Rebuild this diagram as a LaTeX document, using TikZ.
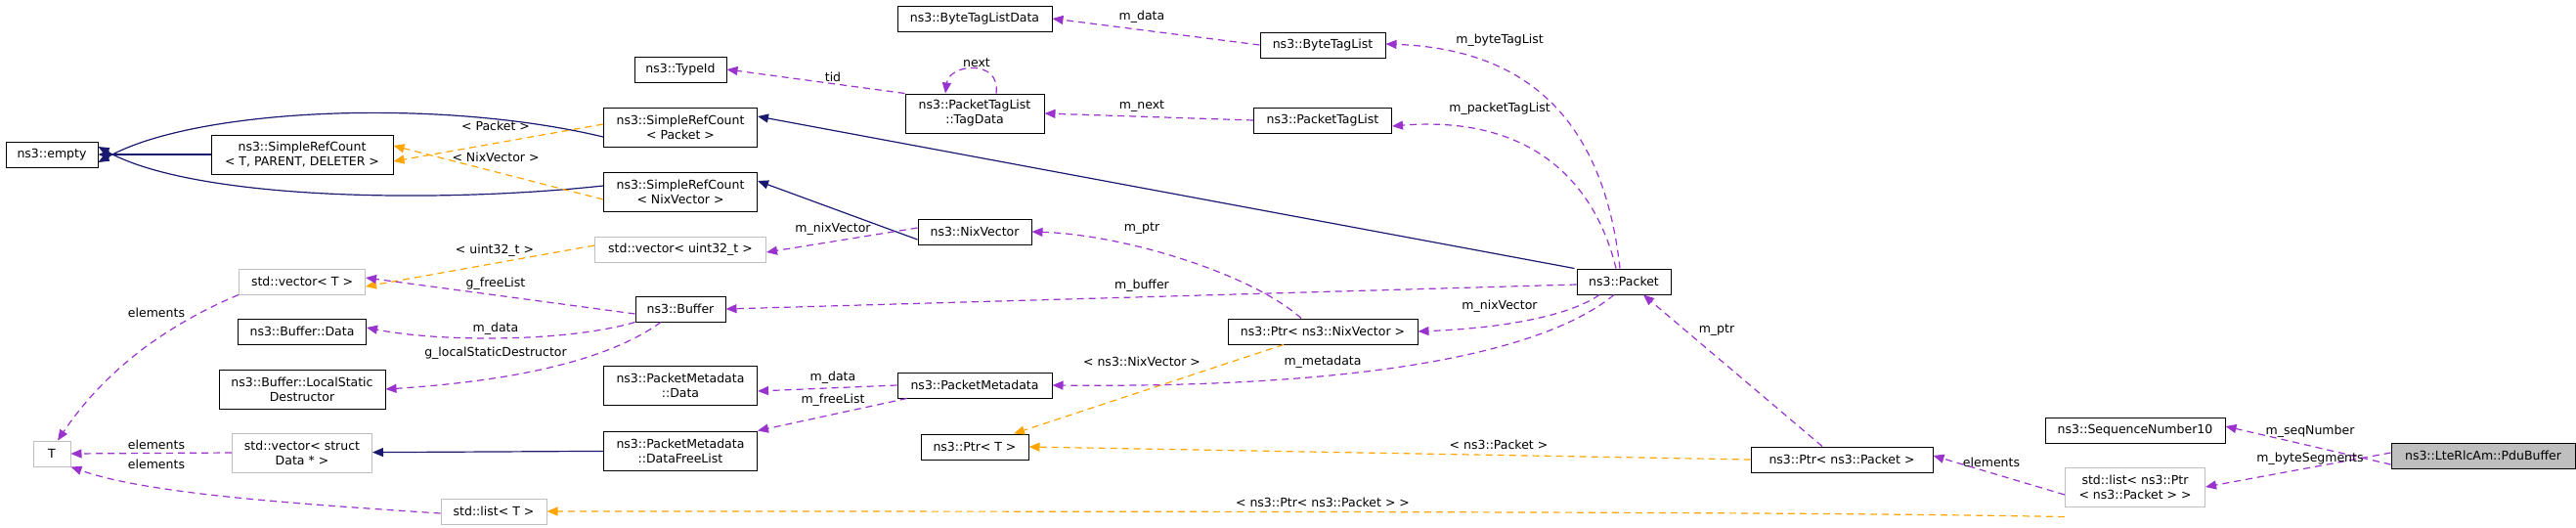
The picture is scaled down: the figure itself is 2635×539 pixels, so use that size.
\documentclass[tikz,border=0pt]{standalone}
\usepackage{fontspec}
\setmainfont{DejaVu Sans}
\usetikzlibrary{arrows.meta}
\definecolor{inhcol}{HTML}{191970}
\definecolor{usecol}{HTML}{9A32CD}
\definecolor{tplcol}{HTML}{FFA500}
\definecolor{extcol}{HTML}{BFBFBF}
\tikzset{
  cls/.style={draw=black,line width=1pt,inner sep=1pt,minimum height=26,font=\fontsize{12.5}{15}\selectfont,align=center},
  ext/.style={cls,draw=extcol},
  cur/.style={cls,fill=extcol},
  tip/.style={-{Triangle[length=11pt,width=9pt]}},
  inh/.style={tip,draw=inhcol,line width=1.2pt},
  use/.style={tip,draw=usecol,line width=1.2pt,dash pattern=on 7pt off 5pt},
  tpl/.style={tip,draw=tplcol,line width=1.2pt,dash pattern=on 7pt off 5pt},
  lbl/.style={font=\fontsize{12.5}{14}\selectfont,inner sep=1pt}
}
\begin{document}
\begin{tikzpicture}[x=1pt,y=-1pt]
\useasboundingbox (0,0) rectangle (2635,539);
% classes
\node[cls,minimum width=94] (empty) at (53,158) {ns3::empty};
\node[cls,minimum width=186,minimum height=40] (srcTPD) at (309,158) {ns3::SimpleRefCount\\< T, PARENT, DELETER >};
\node[cls,minimum width=157,minimum height=40] (srcP) at (696,130) {ns3::SimpleRefCount\\< Packet >};
\node[cls,minimum width=157,minimum height=40] (srcN) at (696,196) {ns3::SimpleRefCount\\< NixVector >};
\node[cls,minimum width=94] (typeid) at (696,71) {ns3::TypeId};
\node[ext,minimum width=175] (vecU) at (696,255) {std::vector< uint32\_t >};
\node[ext,minimum width=129] (vecT) at (309,288) {std::vector< T >};
\node[cls,minimum width=92] (buffer) at (696,316) {ns3::Buffer};
\node[cls,minimum width=131] (bufData) at (309,339) {ns3::Buffer::Data};
\node[cls,minimum width=170,minimum height=40] (bufLsd) at (309,398) {ns3::Buffer::LocalStatic\\Destructor};
\node[cls,minimum width=157,minimum height=40] (pmData) at (696,394) {ns3::PacketMetadata\\::Data};
\node[cls,minimum width=157,minimum height=40] (pmFree) at (696,461) {ns3::PacketMetadata\\::DataFreeList};
\node[ext,minimum width=143,minimum height=40] (vecD) at (309,463) {std::vector< struct\\Data * >};
\node[ext,minimum width=38] (tT) at (53,464) {T};
\node[ext,minimum width=108] (listT) at (505,523) {std::list< T >};
\node[cls,minimum width=158] (btlData) at (997,19) {ns3::ByteTagListData};
\node[cls,minimum width=128] (btl) at (1353,46) {ns3::ByteTagList};
\node[cls,minimum width=142,minimum height=40] (tagData) at (997,116) {ns3::PacketTagList\\::TagData};
\node[cls,minimum width=141] (ptl) at (1353,123) {ns3::PacketTagList};
\node[cls,minimum width=116] (nix) at (997,237) {ns3::NixVector};
\node[cls,minimum width=96] (packet) at (1661,288) {ns3::Packet};
\node[cls,minimum width=194] (ptrNix) at (1353,339) {ns3::Ptr< ns3::NixVector >};
\node[cls,minimum width=158] (pmeta) at (997,394) {ns3::PacketMetadata};
\node[cls,minimum width=110] (ptrT) at (997,457) {ns3::Ptr< T >};
\node[cls,minimum width=186] (ptrPkt) at (1884,470) {ns3::Ptr< ns3::Packet >};
\node[cls,minimum width=184] (seqNum) at (2184,440) {ns3::SequenceNumber10};
\node[ext,minimum width=143,minimum height=40] (listPtr) at (2184,498) {std::list< ns3::Ptr\\< ns3::Packet > >};
\node[cur,minimum width=188] (pdu) at (2540,466) {ns3::LteRlcAm::PduBuffer};
% inheritance
\draw[inh] ([yshift=-10]srcP.west) .. controls (450,100) and (200,110) .. ([yshift=-8]empty.east);
\draw[inh] (srcTPD) -- (empty);
\draw[inh] ([yshift=6]srcN.west) .. controls (450,208) and (200,205) .. ([yshift=8]empty.east);
\draw[inh] ([xshift=-2]packet.north west) -- ([yshift=11]srcP.east);
\draw[inh] ([yshift=-8]nix.west) -- ([yshift=11]srcN.east);
\draw[inh] (pmFree) -- (vecD);
% templates
\draw[tpl] ([yshift=3]srcP.west) -- ([yshift=-7]srcTPD.east);
\draw[tpl] ([yshift=-8]srcN.west) -- ([yshift=9]srcTPD.east);
\draw[tpl] ([yshift=4]vecU.west) -- ([yshift=-5]vecT.east);
\draw[tpl] ([xshift=-40]ptrNix.south) -- ([xshift=40]ptrT.north);
\draw[tpl] (ptrPkt.west) -- (ptrT.east);
\draw[tpl] ([yshift=-10]listPtr.south west) .. controls (1900,525) and (1700,523) .. (listT.east);
% members
\draw[use] (tagData.north west) -- (typeid.east);
\draw[use] ([xshift=22]tagData.north) .. controls (1024,60) and (971,65) .. ([xshift=-30]tagData.north);
\draw[use] (ptl.west) -- (tagData.east);
\draw[use] (btl.west) -- (btlData.east);
\draw[use] ([xshift=-4]packet.north) .. controls (1640,120) and (1560,50) .. ([yshift=1]btl.east);
\draw[use] ([xshift=-8]packet.north) .. controls (1630,180) and (1560,118) .. ([yshift=-6]ptl.east);
\draw[use] ([yshift=4]nix.west) -- ([yshift=-3]vecU.east);
\draw[use] ([yshift=-5]buffer.west) -- ([yshift=4]vecT.east);
\draw[use] ([yshift=-3]packet.west) -- (buffer.east);
\draw[use] (buffer.south west) .. controls (580,350) and (450,350) .. ([yshift=4]bufData.east);
\draw[use] ([xshift=-20]buffer.south) .. controls (620,370) and (520,390) .. (bufLsd.east);
\draw[use] (vecT.south west) .. controls (200,320) and (120,360) .. ([xshift=6]tT.north);
\draw[use] (vecD.west) -- (tT.east);
\draw[use] ([yshift=-2]listT.west) .. controls (300,515) and (150,505) .. (tT.south east);
\draw[use] ([xshift=-22]ptrNix.north) .. controls (1280,280) and (1150,240) .. (nix.east);
\draw[use] ([xshift=-25]packet.south) .. controls (1610,320) and (1550,335) .. (ptrNix.east);
\draw[use] ([xshift=-10]packet.south) .. controls (1580,360) and (1400,397) .. (pmeta.east);
\draw[use] (pmeta.west) -- ([yshift=-6]pmData.east);
\draw[use] ([xshift=10]pmeta.south west) -- (pmFree.north east);
\draw[use] ([xshift=-20]ptrPkt.north) -- ([xshift=20]packet.south);
\draw[use] ([yshift=-8]listPtr.west) -- ([yshift=4]ptrPkt.east);
\draw[use] ([yshift=-9]pdu.west) -- ([yshift=4]seqNum.east);
\draw[use] ([yshift=3]pdu.west) -- ([yshift=0]listPtr.east);
% labels
\node[lbl] (lPkt) at (507,129) {< Packet >};
\node[lbl] (lNix) at (507,161) {< NixVector >};
\node[lbl] (lTid) at (852,79) {tid};
\node[lbl] (lNext) at (999,64) {next};
\node[lbl] (lMnext) at (1168,109) {m\_next};
\node[lbl] (lMdata) at (1168,17) {m\_data};
\node[lbl] (lBtl) at (1534,41) {m\_byteTagList};
\node[lbl] (lPtl) at (1534,111) {m\_packetTagList};
\node[lbl] (lNixv) at (852,234) {m\_nixVector};
\node[lbl] (lU32) at (506,256) {< uint32\_t >};
\node[lbl] (lFree) at (507,290) {g\_freeList};
\node[lbl] (lBuf) at (1168,292) {m\_buffer};
\node[lbl] (lBdata) at (507,336) {m\_data};
\node[lbl] (lLsd) at (507,361) {g\_localStaticDestructor};
\node[lbl] (lEl1) at (160,320) {elements};
\node[lbl] (lEl2) at (160,455) {elements};
\node[lbl] (lEl3) at (160,475) {elements};
\node[lbl] (lPtr) at (1168,234) {m\_ptr};
\node[lbl] (lPnix) at (1534,313) {m\_nixVector};
\node[lbl] (lMeta) at (1353,370) {m\_metadata};
\node[lbl] (lTNix) at (1168,370) {< ns3::NixVector >};
\node[lbl] (lPmd) at (852,386) {m\_data};
\node[lbl] (lPmf) at (852,409) {m\_freeList};
\node[lbl] (lTPkt) at (1533,455) {< ns3::Packet >};
\node[lbl] (lTPtr) at (1353,514) {< ns3::Ptr< ns3::Packet > >};
\node[lbl] (lMptr) at (1756,338) {m\_ptr};
\node[lbl] (lEl4) at (2037,473) {elements};
\node[lbl] (lSeq) at (2363,441) {m\_seqNumber};
\node[lbl] (lSeg) at (2363,469) {m\_byteSegments};
\end{tikzpicture}
\end{document}
